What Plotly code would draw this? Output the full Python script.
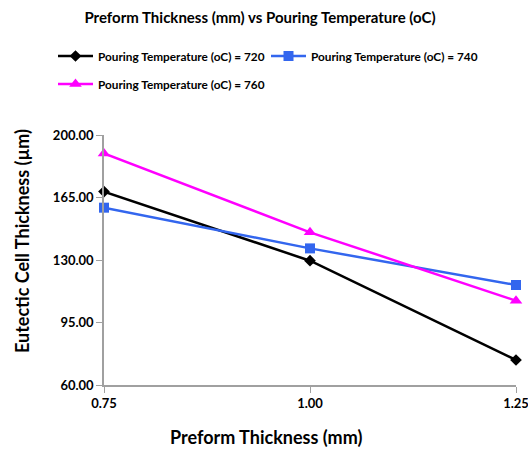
import plotly.graph_objects as go

x_vals = [0.75, 1.00, 1.25]
t720 = [168.3, 129.6, 74.0]
t740 = [159.3, 136.5, 116.0]
t760 = [189.7, 145.5, 107.2]
names = ["Pouring Temperature (oC) = 720", "Pouring Temperature (oC) = 740", "Pouring Temperature (oC) = 760"]
y_ticks = [60, 95, 130, 165, 200]
x_ticks = [0.75, 1.00, 1.25]

FONT = "Lato, Open Sans, sans-serif"
W, H = 528, 450

fig = go.Figure()
fig.add_trace(go.Scatter(x=x_vals, y=t720, name=f"<b>{names[0]}</b>", mode="lines+markers",
                         line=dict(color="black", width=2.5), legend="legend", cliponaxis=False,
                         marker=dict(symbol="diamond", size=9, color="black")))
fig.add_trace(go.Scatter(x=x_vals, y=t740, name=f"<b>{names[1]}</b>", mode="lines+markers",
                         line=dict(color="#3366ee", width=2.5), legend="legend3", cliponaxis=False,
                         marker=dict(symbol="square", size=10, color="#3366ee")))
fig.add_trace(go.Scatter(x=x_vals, y=t760, name=f"<b>{names[2]}</b>", mode="lines+markers",
                         line=dict(color="#ff00ff", width=2.5), legend="legend2", cliponaxis=False,
                         marker=dict(symbol="triangle-up", size=11, color="#ff00ff")))

leg_common = dict(orientation="h", xref="container", yref="container", xanchor="left", yanchor="middle",
                  font=dict(size=11.8, family=FONT, color="black"), itemwidth=35,
                  bgcolor="rgba(0,0,0,0)")

fig.update_layout(
    width=W, height=H,
    margin=dict(l=104, r=12, t=135, b=65, autoexpand=False),
    paper_bgcolor="white", plot_bgcolor="white",
    font=dict(family=FONT, color="black", size=12),
    title=dict(text="<b>Preform Thickness (mm) vs Pouring Temperature (oC)</b>",
               x=260 / W, xanchor="center", y=1 - 18 / H, yanchor="middle",
               font=dict(size=15, family=FONT)),
    legend=dict(x=53 / W, y=1 - 56 / H, **leg_common),
    legend3=dict(x=266 / W, y=1 - 56 / H, **leg_common),
    legend2=dict(x=53 / W, y=1 - 84 / H, **leg_common),
    showlegend=True,
    annotations=[
        dict(text="<b>Eutectic Cell Thickness (µm)</b>", xref="paper", yref="paper",
             x=-82 / 412, y=(385 - 241) / 250, xanchor="center", yanchor="middle",
             textangle=-90, showarrow=False, font=dict(size=18, family=FONT)),
        dict(text="<b>Preform Thickness (mm)</b>", xref="paper", yref="paper",
             x=(266 - 104) / 412, y=-(437 - 385) / 250, xanchor="center", yanchor="middle",
             showarrow=False, font=dict(size=18, family=FONT)),
    ],
)
fig.update_xaxes(range=[0.75, 1.25], tickvals=x_ticks, ticktext=[f"<b>{v:.2f}</b>" for v in x_ticks],
                 showgrid=False, zeroline=False, showline=True, linecolor="#a0a0a0", linewidth=1.5,
                 ticks="outside", ticklen=6, tickcolor="#a0a0a0", automargin=False,
                 ticklabeloverflow="allow",
                 tickfont=dict(size=13, family=FONT))
fig.update_yaxes(range=[60, 200], tickvals=y_ticks, ticktext=[f"<b>{v:.2f}</b>" for v in y_ticks],
                 showgrid=False, zeroline=False, showline=True, linecolor="#a0a0a0", linewidth=1.5,
                 ticks="outside", ticklen=6, tickcolor="#a0a0a0", automargin=False,
                 tickfont=dict(size=13, family=FONT))

fig.write_html("out.html")
